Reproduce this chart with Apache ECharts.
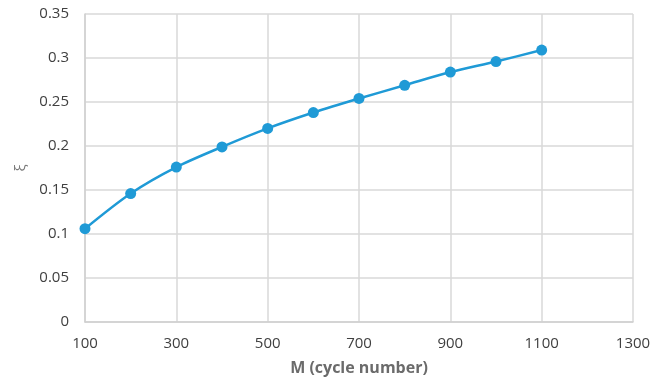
<!DOCTYPE html>
<html><head><meta charset="utf-8">
<script src="https://cdn.jsdelivr.net/npm/echarts@6/dist/echarts.min.js"></script>
<style>html,body{margin:0;padding:0;background:#fff}#c{width:666px;height:386px}</style>
</head><body><div id="c"></div>
<script>
const cycles = [100, 200, 300, 400, 500, 600, 700, 800, 900, 1000, 1100];
const xiValues = [0.106, 0.146, 0.176, 0.199, 0.220, 0.238, 0.254, 0.269, 0.284, 0.296, 0.309];
const xAxisTitle = 'M (cycle number)';
const yAxisTitle = 'ξ';

const chart = echarts.init(document.getElementById('c'));
const font = '"Open Sans", "Liberation Sans", sans-serif';
chart.setOption({
  animation: false,
  grid: {left: 85, right: 33, top: 14, bottom: 64},
  xAxis: {
    type: 'value', min: 100, max: 1300, interval: 200,
    name: xAxisTitle, nameLocation: 'middle', nameGap: 38,
    nameTextStyle: {color: '#6b6b6b', fontSize: 16, fontWeight: 'bold', fontFamily: font},
    axisLine: {show: true, lineStyle: {color: '#d0d0d0', width: 1.5}},
    axisTick: {show: false},
    axisLabel: {color: '#404040', fontSize: 15, margin: 14, fontFamily: font, formatter: v => String(v)},
    splitLine: {show: true, lineStyle: {color: '#d9d9d9', width: 1.5}}
  },
  yAxis: {
    type: 'value', min: 0, max: 0.35, interval: 0.05,
    name: yAxisTitle, nameLocation: 'middle', nameGap: 57, nameRotate: 90,
    nameTextStyle: {color: '#7a7a7a', fontSize: 15, fontFamily: font},
    axisLine: {show: true, lineStyle: {color: '#d0d0d0', width: 1.5}},
    axisTick: {show: false},
    axisLabel: {color: '#404040', fontSize: 15, margin: 16, fontFamily: font, formatter: v => String(+v.toFixed(2))},
    splitLine: {show: true, lineStyle: {color: '#d9d9d9', width: 1.5}}
  },
  series: [{
    type: 'line', smooth: 0.3,
    data: cycles.map((c, i) => [c, xiValues[i]]),
    symbol: 'circle', symbolSize: 11,
    lineStyle: {color: '#1f9ad6', width: 2.5},
    itemStyle: {color: '#1f9ad6'}
  }]
});
</script></body></html>
